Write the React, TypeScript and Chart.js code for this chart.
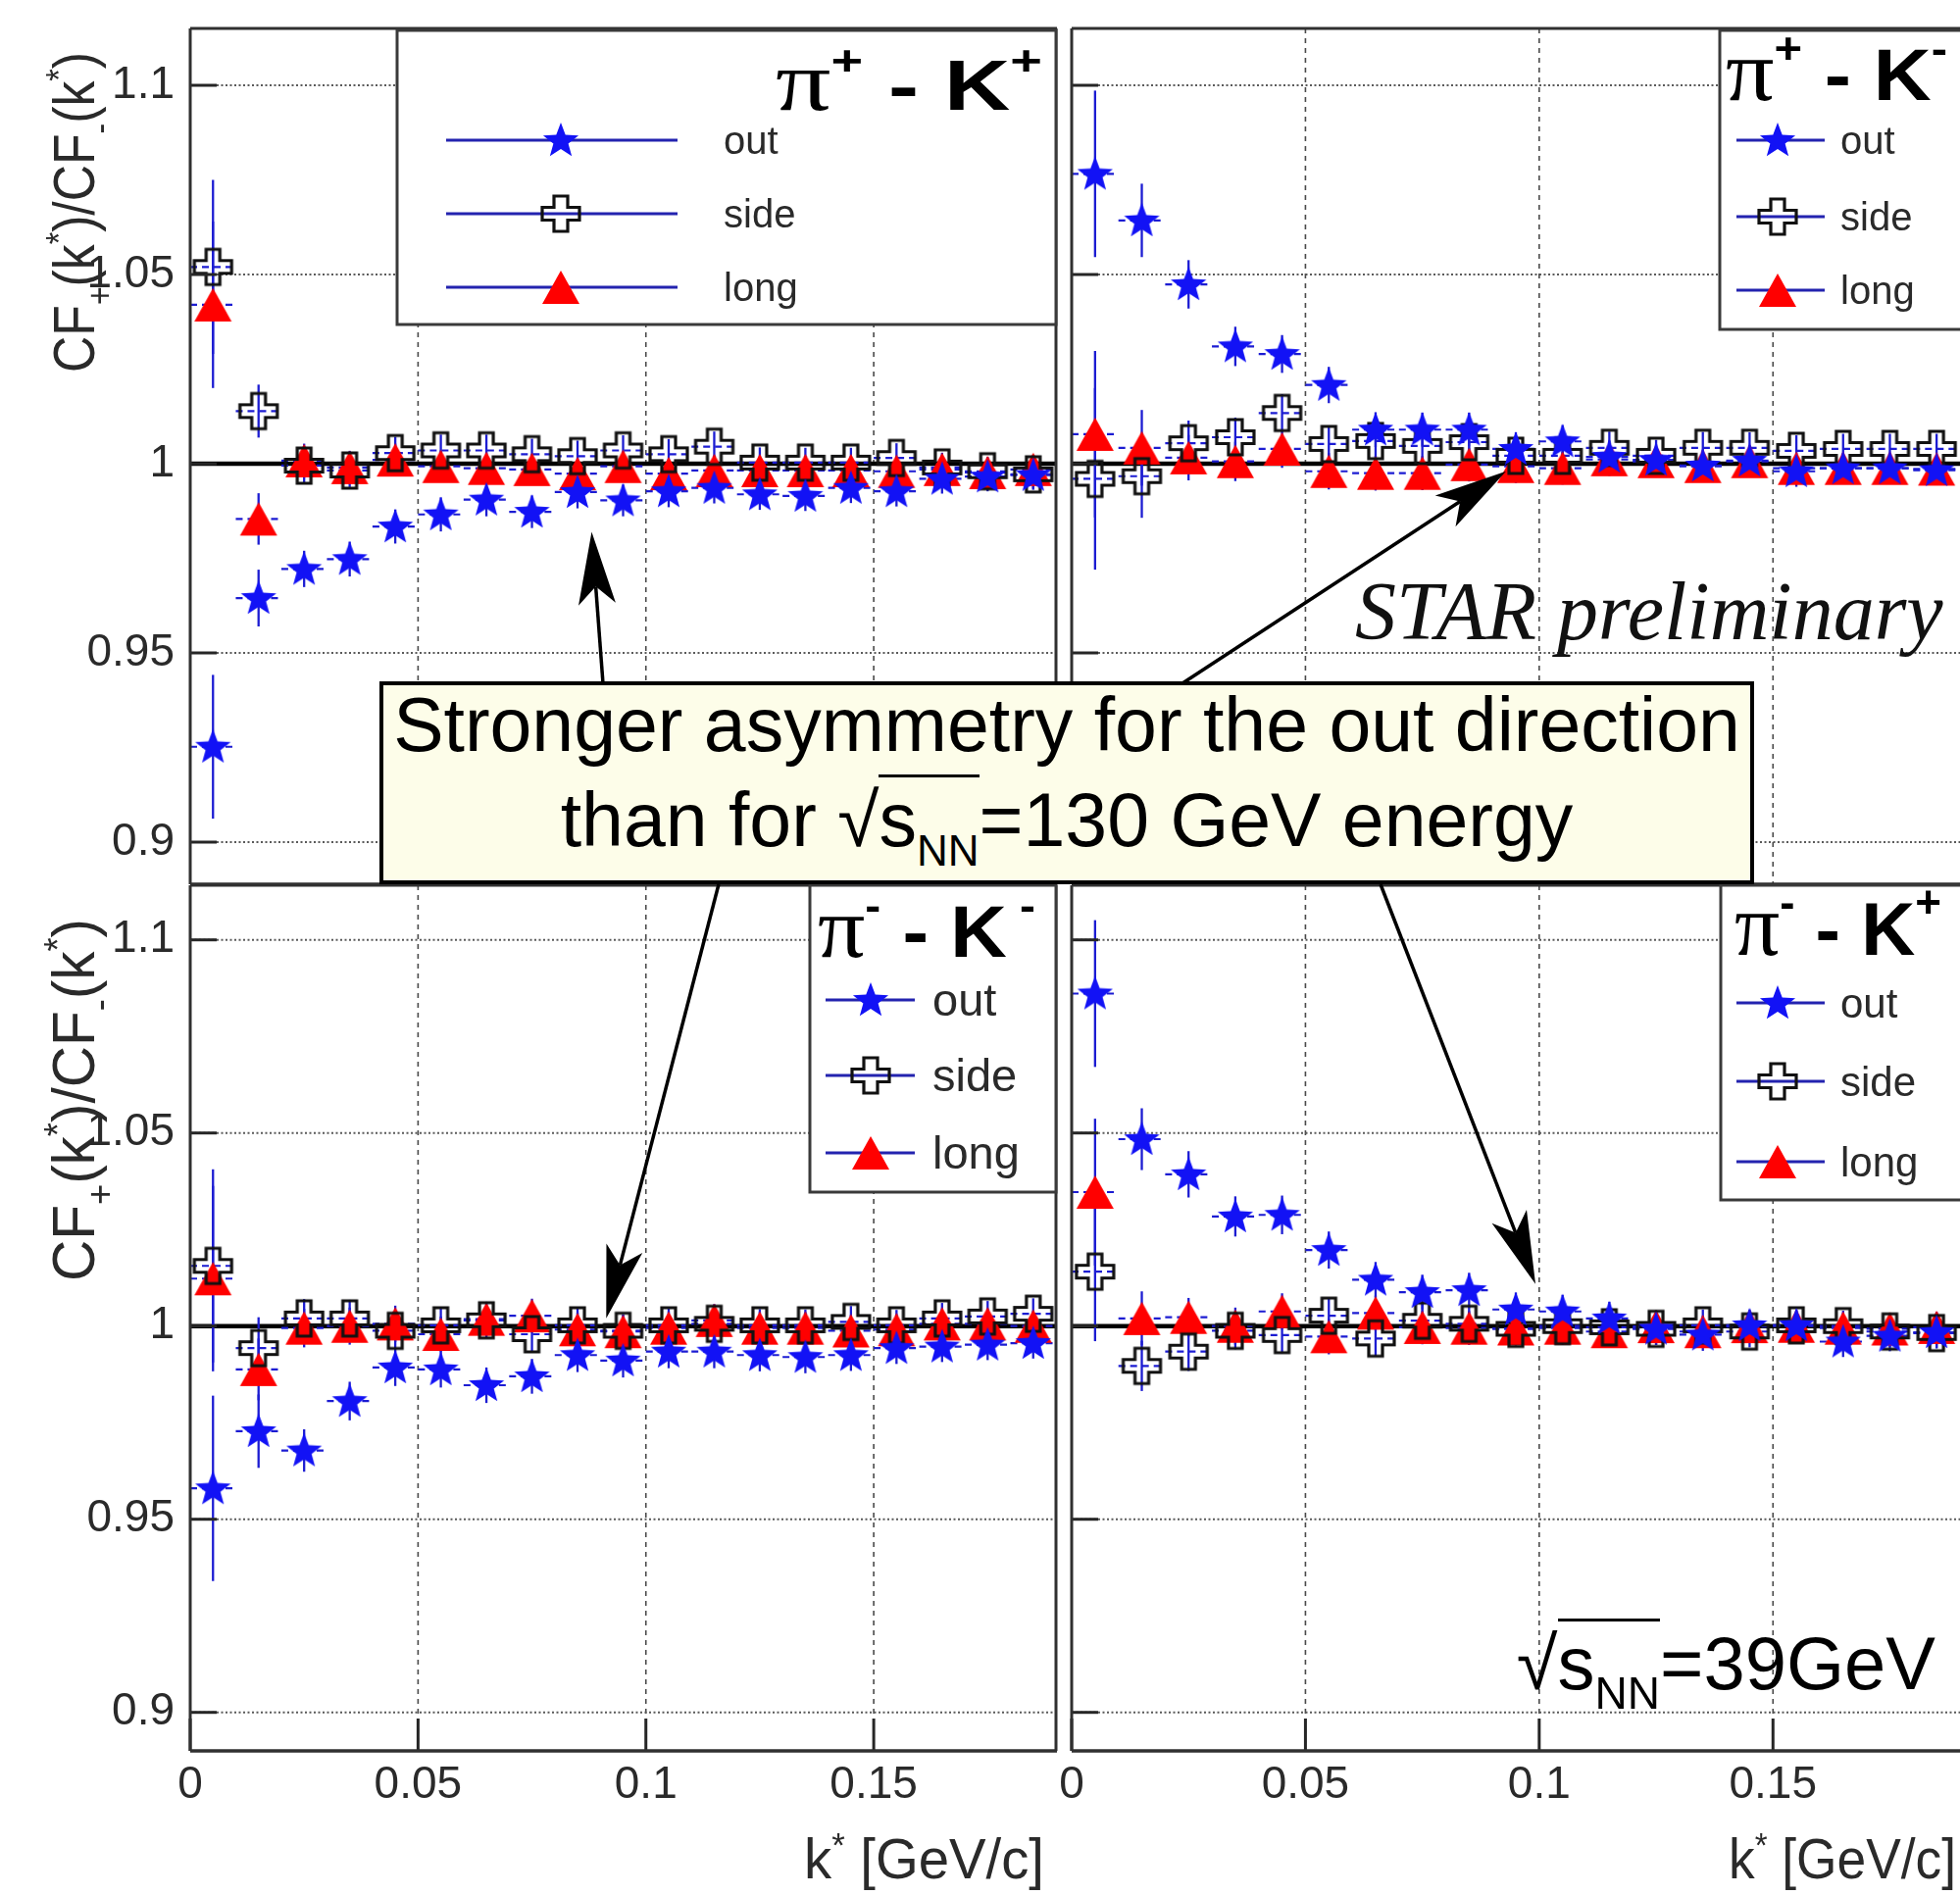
import React, { useEffect, useRef } from 'react';
import { Chart, registerables } from 'chart.js';

Chart.register(...registerables);

const SANS = '"Liberation Sans", Arial, Helvetica, sans-serif';
const SERIF = '"Liberation Serif", "Times New Roman", serif';
const W = 1999;
const H = 1933;

// ---------- data ----------
const kStar = [0.005, 0.015, 0.025, 0.035, 0.045, 0.055, 0.065, 0.075, 0.085, 0.095, 0.105, 0.115, 0.125, 0.135, 0.145, 0.155, 0.165, 0.175, 0.185];
const kBinHalfWidth = 0.005;
const xTickValues = [0, 0.05, 0.1, 0.15];
const xTickLabels = ['0', '0.05', '0.1', '0.15'];
const yTickValues = [0.9, 0.95, 1, 1.05, 1.1];
const yTickLabels = ['0.9', '0.95', '1', '1.05', '1.1'];
const seriesLabels = ['out', 'side', 'long'];

// pi+ K+
const pipKpOut = [0.9252, 0.9645, 0.9722, 0.9748, 0.9834, 0.9866, 0.9905, 0.9873, 0.9925, 0.9903, 0.9927, 0.9936, 0.9919, 0.9915, 0.9936, 0.9927, 0.9960, 0.9966, 0.9970];
const pipKpOutErr = [0.0190, 0.0075, 0.0048, 0.0046, 0.0045, 0.0045, 0.0044, 0.0043, 0.0043, 0.0042, 0.0042, 0.0041, 0.0041, 0.0040, 0.0040, 0.0040, 0.0039, 0.0039, 0.0039];
const pipKpSide = [1.0520, 1.0139, 0.9995, 0.9982, 1.0028, 1.0035, 1.0035, 1.0025, 1.0020, 1.0035, 1.0025, 1.0045, 1.0003, 1.0003, 1.0003, 1.0015, 0.9990, 0.9980, 0.9972];
const pipKpSideErr = [0.0230, 0.0070, 0.0045, 0.0044, 0.0043, 0.0042, 0.0042, 0.0041, 0.0041, 0.0040, 0.0040, 0.0040, 0.0040, 0.0039, 0.0039, 0.0039, 0.0039, 0.0038, 0.0038];
const pipKpLong = [1.0420, 0.9854, 1.0008, 0.9990, 1.0010, 0.9993, 0.9988, 0.9985, 0.9974, 0.9993, 0.9974, 0.9982, 0.9982, 0.9982, 0.9982, 0.9980, 0.9985, 0.9977, 0.9985];
const pipKpLongErr = [0.0220, 0.0068, 0.0045, 0.0044, 0.0043, 0.0042, 0.0042, 0.0041, 0.0041, 0.0040, 0.0040, 0.0040, 0.0040, 0.0039, 0.0039, 0.0039, 0.0039, 0.0038, 0.0038];

// pi+ K-
const pipKmOut = [1.0766, 1.0643, 1.0474, 1.0310, 1.0290, 1.0208, 1.0090, 1.0090, 1.0090, 1.0039, 1.0059, 1.0018, 1.0010, 0.9995, 1.0008, 0.9980, 0.9988, 0.9988, 0.9983];
const pipKmOutErr = [0.0220, 0.0097, 0.0064, 0.0052, 0.0050, 0.0048, 0.0046, 0.0045, 0.0045, 0.0044, 0.0043, 0.0043, 0.0042, 0.0042, 0.0041, 0.0041, 0.0040, 0.0040, 0.0040];
const pipKmSide = [0.9960, 0.9967, 1.0054, 1.0070, 1.0134, 1.0052, 1.0060, 1.0047, 1.0057, 1.0021, 1.0021, 1.0042, 1.0021, 1.0042, 1.0042, 1.0034, 1.0039, 1.0039, 1.0039];
const pipKmSideErr = [0.0240, 0.0110, 0.0060, 0.0052, 0.0050, 0.0048, 0.0046, 0.0045, 0.0045, 0.0044, 0.0043, 0.0043, 0.0042, 0.0042, 0.0041, 0.0041, 0.0040, 0.0040, 0.0040];
const pipKmLong = [1.0078, 1.0042, 1.0016, 1.0006, 1.0039, 0.9980, 0.9975, 0.9975, 0.9998, 0.9993, 0.9988, 1.0011, 1.0006, 0.9993, 1.0006, 0.9988, 0.9988, 0.9988, 0.9986];
const pipKmLongErr = [0.0220, 0.0100, 0.0060, 0.0052, 0.0050, 0.0048, 0.0046, 0.0045, 0.0045, 0.0044, 0.0043, 0.0043, 0.0042, 0.0042, 0.0041, 0.0041, 0.0040, 0.0040, 0.0040];

// pi- K-
const pimKmOut = [0.9580, 0.9728, 0.9678, 0.9806, 0.9893, 0.9888, 0.9847, 0.9870, 0.9925, 0.9911, 0.9934, 0.9934, 0.9925, 0.9920, 0.9925, 0.9943, 0.9947, 0.9952, 0.9956];
const pimKmOutErr = [0.0240, 0.0095, 0.0055, 0.0050, 0.0048, 0.0047, 0.0046, 0.0045, 0.0044, 0.0044, 0.0043, 0.0043, 0.0042, 0.0042, 0.0041, 0.0041, 0.0040, 0.0040, 0.0040];
const pimKmSide = [1.0156, 0.9943, 1.0020, 1.0020, 0.9988, 1.0002, 1.0015, 0.9979, 1.0002, 0.9988, 1.0002, 1.0006, 1.0002, 1.0002, 1.0011, 1.0002, 1.0020, 1.0025, 1.0032];
const pimKmSideErr = [0.0250, 0.0080, 0.0050, 0.0048, 0.0047, 0.0046, 0.0045, 0.0044, 0.0044, 0.0043, 0.0043, 0.0042, 0.0042, 0.0041, 0.0041, 0.0040, 0.0040, 0.0040, 0.0040];
const pimKmLong = [1.0123, 0.9888, 0.9995, 1.0000, 1.0006, 0.9979, 1.0018, 1.0027, 0.9991, 0.9986, 0.9995, 1.0015, 0.9995, 0.9995, 0.9988, 0.9991, 1.0006, 1.0006, 1.0000];
const pimKmLongErr = [0.0240, 0.0080, 0.0050, 0.0048, 0.0047, 0.0046, 0.0045, 0.0044, 0.0044, 0.0043, 0.0043, 0.0042, 0.0042, 0.0041, 0.0041, 0.0040, 0.0040, 0.0040, 0.0040];

// pi- K+
const pimKpOut = [1.0861, 1.0484, 1.0393, 1.0284, 1.0288, 1.0197, 1.0120, 1.0088, 1.0093, 1.0043, 1.0038, 1.0020, 0.9993, 0.9978, 1.0002, 1.0002, 0.9960, 0.9975, 0.9984];
const pimKpOutErr = [0.0190, 0.0080, 0.0060, 0.0052, 0.0050, 0.0048, 0.0046, 0.0045, 0.0045, 0.0044, 0.0043, 0.0043, 0.0042, 0.0042, 0.0041, 0.0041, 0.0040, 0.0040, 0.0040];
const pimKpSide = [1.0141, 0.9897, 0.9934, 0.9988, 0.9977, 1.0027, 0.9968, 1.0014, 1.0006, 0.9993, 1.0000, 0.9997, 0.9993, 1.0002, 0.9986, 1.0002, 1.0000, 0.9986, 0.9982];
const pimKpSideErr = [0.0180, 0.0065, 0.0050, 0.0048, 0.0047, 0.0046, 0.0045, 0.0044, 0.0044, 0.0043, 0.0043, 0.0042, 0.0042, 0.0041, 0.0041, 0.0040, 0.0040, 0.0040, 0.0040];
const pimKpLong = [1.0347, 1.0020, 1.0023, 1.0000, 1.0038, 0.9973, 1.0034, 0.9997, 0.9995, 0.9993, 0.9995, 0.9986, 0.9999, 0.9986, 0.9999, 1.0000, 0.9995, 0.9993, 0.9997];
const pimKpLongErr = [0.0190, 0.0070, 0.0050, 0.0048, 0.0047, 0.0046, 0.0045, 0.0044, 0.0044, 0.0043, 0.0043, 0.0042, 0.0042, 0.0041, 0.0041, 0.0040, 0.0040, 0.0040, 0.0040];

// ---------- styling ----------
const BLUE = 'rgb(18,18,245)';
const ERR_BLUE = 'rgb(28,28,210)';
const LEG_BLUE = 'rgb(35,35,175)';
const RED = 'rgb(255,0,0)';
const AXIS = '#262626';
const TEXT = '#2a2a2a';

type Piece = { t: string; s?: number; dy?: number; bold?: boolean; serif?: boolean };

const panels: any[] = [
  {
    key: 'pipKp', left: 0, top: 0, width: 1082, height: 902,
    yAxisWidth: 194, padTop: 29, padRight: 5, xAxisHeight: 0,
    yMin: 0.88886, yMax: 1.11503, showY: true, showX: false, frameRight: true,
    series: [[pipKpOut, pipKpOutErr], [pipKpSide, pipKpSideErr], [pipKpLong, pipKpLongErr]],
    title: { piSup: '+', kSup: '+', right: 1063, baseline: 112, size: 72, width: 272 },
    legend: { x0: 405, y0: 31, x1: 1077, y1: 331, lx0: 455, lx1: 691, mx: 572, tx: 738, rows: [143, 218, 293], font: 40 },
    yTitle: { top: 53, length: 327, baseX: 96, size: 60 },
    xTitle: null,
  },
  {
    key: 'pipKm', left: 1040, top: 0, width: 959, height: 902,
    yAxisWidth: 53, padTop: 29, padRight: 0, xAxisHeight: 0,
    yMin: 0.88886, yMax: 1.11503, showY: false, showX: false, frameRight: false,
    series: [[pipKmOut, pipKmOutErr], [pipKmSide, pipKmSideErr], [pipKmLong, pipKmLongErr]],
    title: { piSup: '+', kSup: '-', right: 1986, baseline: 102, size: 74, width: 226 },
    legend: { x0: 1754, y0: 31, x1: 2010, y1: 336, lx0: 1771, lx1: 1861, mx: 1813, tx: 1877, rows: [143, 221, 296], font: 40 },
    yTitle: null,
    xTitle: null,
  },
  {
    key: 'pimKm', left: 0, top: 902, width: 1082, height: 1031,
    yAxisWidth: 194, padTop: 1, padRight: 5, xAxisHeight: 147,
    yMin: 0.89003, yMax: 1.11414, showY: true, showX: true, frameRight: true,
    series: [[pimKmOut, pimKmOutErr], [pimKmSide, pimKmSideErr], [pimKmLong, pimKmLongErr]],
    title: { piSup: '-', kSup: ' -', right: 1056, baseline: 976, size: 74, width: 222 },
    legend: { x0: 826, y0: 903, x1: 1077, y1: 1216, lx0: 842, lx1: 933, mx: 888, tx: 951, rows: [1020, 1097, 1176], font: 47 },
    yTitle: { top: 937, length: 370, baseX: 96, size: 62 },
    xTitle: { right: 1065, baseline: 1916, width: 245, size: 58 },
  },
  {
    key: 'pimKp', left: 1040, top: 902, width: 959, height: 1031,
    yAxisWidth: 53, padTop: 1, padRight: 0, xAxisHeight: 147,
    yMin: 0.89003, yMax: 1.11414, showY: false, showX: true, frameRight: false,
    series: [[pimKpOut, pimKpOutErr], [pimKpSide, pimKpSideErr], [pimKpLong, pimKpLongErr]],
    title: { piSup: '-', kSup: '+', right: 1980, baseline: 974, size: 76, width: 211 },
    legend: { x0: 1755, y0: 903, x1: 2010, y1: 1224, lx0: 1771, lx1: 1861, mx: 1813, tx: 1877, rows: [1023, 1103, 1185], font: 42 },
    yTitle: null,
    xTitle: { right: 1995, baseline: 1916, width: 232, size: 58 },
  },
];

// annotation arrows: start on the text box edge (page px), tip at a data position of a panel
const arrowSpecs = [
  { panel: 'pipKp', k: 0.0881, v: 0.9820, fromX: 615, fromY: 697 },
  { panel: 'pipKm', k: 0.0929, v: 0.9980, fromX: 1206, fromY: 697 },
  { panel: 'pimKm', k: 0.0913, v: 1.0020, fromX: 733, fromY: 902 },
  { panel: 'pimKp', k: 0.0992, v: 1.0109, fromX: 1408, fromY: 902 },
];

// ---------- markers ----------
function makeStar(): HTMLCanvasElement {
  const c = document.createElement('canvas');
  c.width = 40; c.height = 40;
  const g = c.getContext('2d') as CanvasRenderingContext2D;
  g.fillStyle = BLUE;
  g.beginPath();
  const cx = 20, cy = 21, R = 19, r = 8;
  for (let i = 0; i < 10; i++) {
    const a = -Math.PI / 2 + (i * Math.PI) / 5;
    const rr = i % 2 === 0 ? R : r;
    g.lineTo(cx + rr * Math.cos(a), cy + rr * Math.sin(a));
  }
  g.closePath();
  g.fill();
  return c;
}

function makeCross(): HTMLCanvasElement {
  const c = document.createElement('canvas');
  c.width = 44; c.height = 42;
  const g = c.getContext('2d') as CanvasRenderingContext2D;
  const cx = 22, cy = 21, a = 19, b = 18, tx = 7, ty = 6.5;
  const pts = [
    [cx - tx, cy - b], [cx + tx, cy - b], [cx + tx, cy - ty], [cx + a, cy - ty], [cx + a, cy + ty], [cx + tx, cy + ty],
    [cx + tx, cy + b], [cx - tx, cy + b], [cx - tx, cy + ty], [cx - a, cy + ty], [cx - a, cy - ty], [cx - tx, cy - ty],
  ];
  g.beginPath();
  pts.forEach((p, i) => (i === 0 ? g.moveTo(p[0], p[1]) : g.lineTo(p[0], p[1])));
  g.closePath();
  g.strokeStyle = '#111';
  g.lineWidth = 3.2;
  g.lineJoin = 'miter';
  g.stroke();
  return c;
}

function makeTriangle(): HTMLCanvasElement {
  const c = document.createElement('canvas');
  c.width = 40; c.height = 36;
  const g = c.getContext('2d') as CanvasRenderingContext2D;
  g.fillStyle = RED;
  g.beginPath();
  g.moveTo(20, 1);
  g.lineTo(39, 35);
  g.lineTo(1, 35);
  g.closePath();
  g.fill();
  return c;
}

// ---------- text helpers ----------
function fontOf(p: Piece, size: number) {
  const s = size * (p.s || 1);
  return `${p.bold ? 'bold ' : ''}${s}px ${p.serif ? SERIF : SANS}`;
}

function drawRich(ctx: CanvasRenderingContext2D, pieces: Piece[], size: number, x: number, y: number, align: 'left' | 'right', targetW?: number) {
  const widths = pieces.map((p) => {
    ctx.font = fontOf(p, size);
    return ctx.measureText(p.t).width;
  });
  const natural = widths.reduce((a, b) => a + b, 0);
  const sx = targetW ? targetW / natural : 1;
  const total = natural * sx;
  ctx.save();
  ctx.translate(align === 'right' ? x - total : x, y);
  ctx.scale(sx, 1);
  ctx.textBaseline = 'alphabetic';
  ctx.textAlign = 'left';
  let cx = 0;
  pieces.forEach((p, i) => {
    ctx.font = fontOf(p, size);
    ctx.fillText(p.t, cx, (p.dy || 0) * size);
    cx += widths[i];
  });
  ctx.restore();
}

function line(ctx: CanvasRenderingContext2D, x0: number, y0: number, x1: number, y1: number) {
  ctx.beginPath();
  ctx.moveTo(x0, y0);
  ctx.lineTo(x1, y1);
  ctx.stroke();
}

function drawArrow(ctx: CanvasRenderingContext2D, x0: number, y0: number, x1: number, y1: number) {
  const ang = Math.atan2(y1 - y0, x1 - x0);
  const c = Math.cos(ang), s = Math.sin(ang);
  const L = 74, Wd = 19, notch = 56;
  const bx = x1 - notch * c, by = y1 - notch * s;
  ctx.save();
  ctx.strokeStyle = '#000';
  ctx.fillStyle = '#000';
  ctx.lineWidth = 3.5;
  line(ctx, x0, y0, bx, by);
  ctx.beginPath();
  ctx.moveTo(x1, y1);
  ctx.lineTo(x1 - L * c + Wd * s, y1 - L * s - Wd * c);
  ctx.lineTo(bx, by);
  ctx.lineTo(x1 - L * c - Wd * s, y1 - L * s + Wd * c);
  ctx.closePath();
  ctx.fill();
  ctx.restore();
}

// ---------- plugin ----------
function makeDecor(p: any, markers: HTMLCanvasElement[]) {
  const ox = p.left, oy = p.top;
  return {
    id: 'decor_' + p.key,
    beforeDatasetsDraw(chart: any) {
      const ctx: CanvasRenderingContext2D = chart.ctx;
      const { left, right, top, bottom } = chart.chartArea;
      const xs = chart.scales.x, ys = chart.scales.y;
      ctx.save();
      // vertical grid
      ctx.strokeStyle = '#4a4a4a';
      ctx.lineWidth = 1.6;
      ctx.setLineDash([5, 5]);
      xTickValues.forEach((v) => {
        if (v <= 0) return;
        const x = xs.getPixelForValue(v);
        line(ctx, x, top, x, bottom);
      });
      // horizontal grid
      ctx.strokeStyle = '#5a5a5a';
      ctx.lineWidth = 2;
      ctx.setLineDash([2, 2.5]);
      yTickValues.forEach((v) => {
        if (v === 1) return;
        const y = ys.getPixelForValue(v);
        line(ctx, left, y, right, y);
      });
      ctx.setLineDash([]);
      // reference line at 1
      ctx.strokeStyle = '#000';
      ctx.lineWidth = 4.5;
      const y1 = ys.getPixelForValue(1);
      line(ctx, left, y1, right, y1);
      // error bars
      ctx.beginPath();
      ctx.rect(left, top, right - left, bottom - top);
      ctx.clip();
      ctx.strokeStyle = ERR_BLUE;
      chart.data.datasets.forEach((ds: any, di: number) => {
        const meta = chart.getDatasetMeta(di);
        meta.data.forEach((pt: any, i: number) => {
          const d = ds.data[i];
          const e = ds.errY[i];
          const yt = ys.getPixelForValue(d.y + e);
          const yb = ys.getPixelForValue(d.y - e);
          ctx.setLineDash([]);
          ctx.lineWidth = 2.3;
          line(ctx, pt.x, yt, pt.x, yb);
          const xl = xs.getPixelForValue(d.x - kBinHalfWidth);
          const xr = xs.getPixelForValue(d.x + kBinHalfWidth);
          ctx.setLineDash([7, 5]);
          ctx.lineWidth = 2.2;
          line(ctx, xl, pt.y, xr, pt.y);
        });
      });
      ctx.restore();
    },
    afterDatasetsDraw(chart: any) {
      const ctx: CanvasRenderingContext2D = chart.ctx;
      const { left, right, top, bottom } = chart.chartArea;
      const xs = chart.scales.x, ys = chart.scales.y;
      ctx.save();
      ctx.setLineDash([]);
      // tick marks (inside)
      ctx.strokeStyle = AXIS;
      ctx.lineWidth = 3;
      yTickValues.forEach((v) => {
        const y = ys.getPixelForValue(v);
        line(ctx, left, y, left + 27, y);
      });
      if (p.showX) {
        xTickValues.forEach((v) => {
          const x = xs.getPixelForValue(v);
          line(ctx, x, bottom, x, bottom - 33);
        });
      }
      // frame
      ctx.strokeStyle = '#303030';
      ctx.lineWidth = 3;
      line(ctx, left, top, left, bottom);
      line(ctx, left, top, right + 1, top);
      ctx.lineWidth = 3.5;
      line(ctx, left, bottom, right + 1, bottom);
      ctx.lineWidth = 3;
      if (p.frameRight) line(ctx, right, top, right, bottom);

      // legend
      const L = p.legend;
      ctx.fillStyle = '#fff';
      ctx.fillRect(L.x0 - ox, L.y0 - oy, L.x1 - L.x0, L.y1 - L.y0);
      ctx.strokeStyle = '#3a3a3a';
      ctx.lineWidth = 3;
      ctx.strokeRect(L.x0 - ox, L.y0 - oy, L.x1 - L.x0, L.y1 - L.y0);
      seriesLabels.forEach((lab, i) => {
        const ry = L.rows[i] - oy;
        ctx.strokeStyle = LEG_BLUE;
        ctx.lineWidth = 3;
        line(ctx, L.lx0 - ox, ry, L.lx1 - ox, ry);
        const m = markers[i];
        ctx.drawImage(m, L.mx - ox - m.width / 2, ry - m.height / 2);
        ctx.fillStyle = TEXT;
        ctx.font = `${L.font}px ${SANS}`;
        ctx.textBaseline = 'middle';
        ctx.textAlign = 'left';
        ctx.fillText(lab, L.tx - ox, ry + 3);
      });

      // pair title
      const T = p.title;
      ctx.fillStyle = '#000';
      drawRich(ctx, [
        { t: 'π', serif: true, s: 1.2 },
        { t: T.piSup, bold: true, s: 0.6, dy: -0.5 },
        { t: ' - K', bold: true },
        { t: T.kSup, bold: true, s: 0.6, dy: -0.5 },
      ], T.size, T.right - ox, T.baseline - oy, 'right', T.width);

      // y axis title
      if (p.yTitle) {
        const Y = p.yTitle;
        ctx.fillStyle = TEXT;
        ctx.save();
        ctx.translate(Y.baseX - ox, Y.top - oy);
        ctx.rotate(-Math.PI / 2);
        drawRich(ctx, [
          { t: 'CF' }, { t: '+', s: 0.62, dy: 0.3 }, { t: '(k' }, { t: '*', s: 0.62, dy: -0.38 }, { t: ')/CF' },
          { t: '-', s: 0.62, dy: 0.3 }, { t: '(k' }, { t: '*', s: 0.62, dy: -0.38 }, { t: ')' },
        ], Y.size, 0, 0, 'right', Y.length);
        ctx.restore();
      }
      // x axis title
      if (p.xTitle) {
        const X = p.xTitle;
        ctx.fillStyle = TEXT;
        drawRich(ctx, [{ t: 'k' }, { t: '*', s: 0.62, dy: -0.38 }, { t: ' [GeV/c]' }], X.size, X.right - ox, X.baseline - oy, 'right', X.width);
      }
      ctx.restore();
    },
  };
}

function buildConfig(p: any, markers: HTMLCanvasElement[]): any {
  const datasets = p.series.map((pair: number[][], si: number) => ({
    label: seriesLabels[si],
    data: kStar.map((k, i) => ({ x: k, y: pair[0][i] })),
    errY: pair[1],
    pointStyle: markers[si],
    pointRadius: 18,
    pointHoverRadius: 18,
    showLine: false,
    borderWidth: 0,
    borderColor: si === 2 ? RED : BLUE,
    backgroundColor: si === 2 ? RED : BLUE,
  }));
  return {
    type: 'scatter',
    data: { datasets },
    options: {
      animation: false,
      responsive: false,
      devicePixelRatio: 1,
      events: [],
      layout: { autoPadding: false, padding: { top: p.padTop, right: p.padRight, left: 0, bottom: 0 } },
      plugins: { legend: { display: false }, tooltip: { enabled: false }, title: { display: false } },
      scales: {
        x: {
          type: 'linear',
          min: 0,
          max: 0.19,
          grid: { display: false },
          border: { display: false },
          ticks: {
            display: p.showX,
            autoSkip: false,
            maxRotation: 0,
            minRotation: 0,
            padding: 0,
            color: TEXT,
            font: { size: 46, family: SANS },
            callback: (v: number) => {
              const i = xTickValues.indexOf(v);
              return i >= 0 ? xTickLabels[i] : '';
            },
          },
          afterBuildTicks: (s: any) => {
            s.ticks = xTickValues.map((v) => ({ value: v }));
          },
          afterFit: (s: any) => {
            s.height = p.xAxisHeight;
            s.paddingLeft = 0;
            s.paddingRight = 0;
          },
        },
        y: {
          type: 'linear',
          min: p.yMin,
          max: p.yMax,
          grid: { display: false },
          border: { display: false },
          ticks: {
            display: p.showY,
            autoSkip: false,
            padding: 8,
            color: TEXT,
            font: { size: 46, family: SANS },
            callback: (v: number) => {
              const i = yTickValues.indexOf(v);
              return i >= 0 ? yTickLabels[i] : '';
            },
          },
          afterBuildTicks: (s: any) => {
            s.ticks = yTickValues.map((v) => ({ value: v }));
          },
          afterFit: (s: any) => {
            s.width = p.yAxisWidth;
            s.paddingTop = 0;
            s.paddingBottom = 0;
          },
        },
      },
    },
    plugins: [makeDecor(p, markers)],
  };
}

export default function App() {
  const refs = useRef<(HTMLCanvasElement | null)[]>([]);
  const overlayRef = useRef<HTMLCanvasElement | null>(null);

  useEffect(() => {
    const markers = [makeStar(), makeCross(), makeTriangle()];
    const charts = panels.map((p, i) => new Chart(refs.current[i] as HTMLCanvasElement, buildConfig(p, markers)));
    const oc = overlayRef.current;
    if (oc) {
      const octx = oc.getContext('2d') as CanvasRenderingContext2D;
      octx.clearRect(0, 0, W, H);
      arrowSpecs.forEach((a) => {
        const pi = panels.findIndex((p) => p.key === a.panel);
        const ch: any = charts[pi];
        const p = panels[pi];
        const tx = ch.scales.x.getPixelForValue(a.k) + p.left;
        const ty = ch.scales.y.getPixelForValue(a.v) + p.top;
        drawArrow(octx, a.fromX, a.fromY, tx, ty);
      });
    }
    return () => {
      charts.forEach((c) => c.destroy());
    };
  }, []);

  const boxFont = 77;
  return (
    <div style={{ position: 'absolute', left: 0, top: 0, width: W, height: H, background: '#fff', overflow: 'hidden' }}>
      {panels.map((p, i) => (
        <canvas
          key={p.key}
          ref={(el) => {
            refs.current[i] = el;
          }}
          width={p.width}
          height={p.height}
          style={{ position: 'absolute', left: p.left, top: p.top, width: p.width, height: p.height }}
        />
      ))}
      <div
        style={{
          position: 'absolute', left: 1382, top: 582, fontFamily: SERIF, fontStyle: 'italic', fontSize: 84,
          lineHeight: '84px', color: '#111', whiteSpace: 'nowrap',
        }}
      >
        STAR preliminary
      </div>
      <div
        style={{
          position: 'absolute', right: 25, top: 1659, fontFamily: SANS, fontSize: 76, lineHeight: '76px',
          color: '#000', whiteSpace: 'nowrap',
        }}
      >
        √<span style={{ borderTop: '3px solid #000' }}>s<span style={{ fontSize: 46, verticalAlign: '-20px', lineHeight: 0 }}>NN</span></span>=39GeV
      </div>
      <canvas
        ref={overlayRef}
        width={W}
        height={H}
        style={{ position: 'absolute', left: 0, top: 0, width: W, height: H, pointerEvents: 'none' }}
      />
      <div
        style={{
          position: 'absolute', left: 387, top: 695, width: 1402, height: 207, boxSizing: 'border-box',
          border: '4px solid #000', background: '#fdfde9', fontFamily: SANS, color: '#000',
        }}
      >
        <div style={{ position: 'absolute', left: 0, right: 0, top: 2, fontSize: boxFont, lineHeight: `${boxFont}px`, textAlign: 'center', whiteSpace: 'nowrap' }}>
          Stronger asymmetry for the out direction
        </div>
        <div style={{ position: 'absolute', left: 0, right: 0, top: 99, fontSize: boxFont, lineHeight: `${boxFont}px`, textAlign: 'center', whiteSpace: 'nowrap' }}>
          than for √<span style={{ borderTop: '3px solid #000' }}>s<span style={{ fontSize: 44, verticalAlign: '-20px', lineHeight: 0 }}>NN</span></span>=130 GeV energy
        </div>
      </div>
    </div>
  );
}
